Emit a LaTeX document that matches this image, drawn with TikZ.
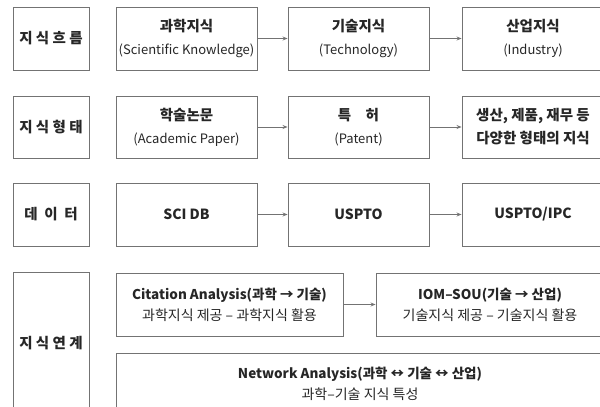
\documentclass[tikz,border=0pt]{standalone}
\usepackage{fontspec}
\setmainfont{Noto Sans CJK KR}
\usetikzlibrary{arrows.meta}

\begin{document}
\begin{tikzpicture}[x=1pt,y=-1pt,
    rowname/.style ={draw=black!55, line width=0.9pt, minimum width=76pt, inner sep=0pt,
      text=black!85, font=\bfseries\fontsize{14.5}{16}\selectfont},
    stage/.style ={draw=black!55, line width=0.9pt, minimum width=141pt, minimum height=63pt,
      inner sep=0pt, align=center, text=black!85, font=\fontsize{13}{23}\selectfont},
    flow/.style ={draw=black!55, line width=0.9pt, -{Stealth[length=5pt,width=4pt]}}]
   \useasboundingbox (0,0) rectangle (600,407);
   \clip (0,0) rectangle (600,407);

   \node[rowname, minimum height=63pt] (R1) at (51,38.5) {지 식 흐 름};
   \node[rowname, minimum height=62pt] (R2) at (51,127) {지 식 형 태};
   \node[rowname, minimum height=63pt] (R3) at (51,214.5) {데 \ 이 \ 터};
   \node[rowname, minimum height=142pt] (R4) at (51,343) {지 식 연 계};

   \node[stage] (A1) at (186.5,38.5) {{\bfseries\fontsize{14.5}{23}\selectfont 과학지식}\\(Scientific Knowledge)};
   \node[stage] (A2) at (358.5,38.5) {{\bfseries\fontsize{14.5}{23}\selectfont 기술지식}\\(Technology)};
   \node[stage, minimum width=142pt] (A3) at (533,38.5) {{\bfseries\fontsize{14.5}{23}\selectfont 산업지식}\\(Industry)};

   \node[stage, minimum height=62pt] (B1) at (186.5,127) {{\bfseries\fontsize{14.5}{23}\selectfont 학술논문}\\(Academic Paper)};
   \node[stage, minimum height=62pt] (B2) at (358.5,127) {{\bfseries\fontsize{14.5}{23}\selectfont 특\quad 허}\\(Patent)};
   \node[stage, minimum width=142pt, minimum height=62pt, font=\bfseries\fontsize{14.5}{23}\selectfont] (B3) at (533,127) {생산, 제품, 재무 등\\다양한 형태의 지식};

   \node[stage, font=\bfseries\fontsize{14}{16}\selectfont] (C1) at (186.5,214.5) {SCI DB};
   \node[stage, font=\bfseries\fontsize{14}{16}\selectfont] (C2) at (358.5,214.5) {USPTO};
   \node[stage, minimum width=142pt, font=\bfseries\fontsize{14}{16}\selectfont] (C3) at (533,214.5) {USPTO/IPC};

   \node[stage, minimum width=227pt, font=\fontsize{14}{21}\selectfont] (D1) at (229.5,304.5) {{\bfseries\fontsize{13.5}{21}\selectfont Citation Analysis(과학 → 기술)}\\과학지식 제공 – 과학지식 활용};
   \node[stage, minimum width=228pt, font=\fontsize{14}{21}\selectfont] (D2) at (490,304.5) {{\bfseries\fontsize{13.5}{21}\selectfont IOM–SOU(기술 → 산업)}\\기술지식 제공 – 기술지식 활용};
   \node[stage, minimum width=488pt, minimum height=61pt, font=\fontsize{14}{21}\selectfont] (E1) at (360,383.5) {{\bfseries\fontsize{13.5}{21}\selectfont Network Analysis(과학 ↔ 기술 ↔ 산업)}\\과학–기술 지식 특성};

   \draw[flow] (A1) -- (A2);
   \draw[flow] (A2) -- (A3);
   \draw[flow] (B1) -- (B2);
   \draw[flow] (B2) -- (B3);
   \draw[flow] (C1) -- (C2);
   \draw[flow] (C2) -- (C3);
   \draw[flow] (D1) -- (D2);
 \end{tikzpicture}
\end{document}
